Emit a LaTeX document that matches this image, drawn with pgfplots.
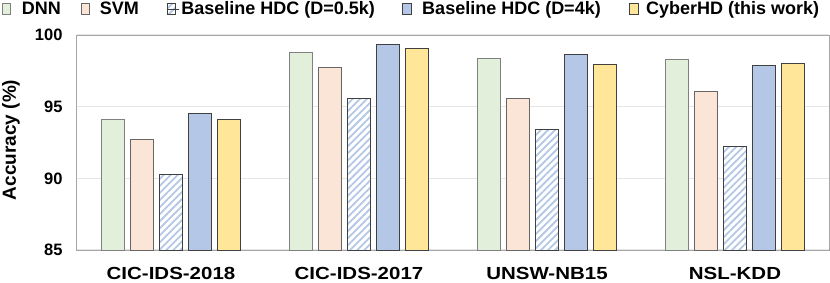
\documentclass[border=0pt]{standalone}
\usepackage{fontspec}
\setmainfont{Liberation Sans}
\newfontfamily\catfont[FakeStretch=1.17]{Liberation Sans}
\usepackage{pgfplots}
\usepackage{pgfplotstable}
\pgfplotsset{compat=1.18}
\usetikzlibrary{patterns.meta}
\definecolor{dnn}{HTML}{E2EFDA}
\definecolor{svm}{HTML}{FBE5D6}
\definecolor{hdc}{HTML}{B4C7E7}
\definecolor{cyber}{HTML}{FFE699}
\definecolor{edgeA}{HTML}{808080}
\definecolor{edgeB}{HTML}{404040}
\definecolor{gridgray}{HTML}{E6E6E6}
\definecolor{framegray}{HTML}{A6A6A6}
\pgfplotsset{
  wideimg/.style={legend image code/.code={\draw[##1] (0pt,-5.5pt) rectangle (8.5pt,5.5pt); \path[draw=none,fill=none] (0pt,0pt) -- (21pt,0pt);}},
  narrowimg/.style={legend image code/.code={\draw[##1] (0pt,-5.5pt) rectangle (8.5pt,5.5pt); \path[draw=none,fill=none] (0pt,0pt) -- (12pt,0pt);}},
}
\pgfplotstableread{
x dnn svm hdcs hdcl cyber
0 94.12 92.74 90.25 94.51 94.09
1 98.77 97.72 95.58 99.37 99.07
2 98.35 95.58 93.42 98.65 97.95
3 98.30 96.07 92.23 97.88 98.00
}\datatable
\begin{document}
\begin{tikzpicture}
\useasboundingbox (-77pt,-32pt) rectangle (753pt,250pt);
\begin{axis}[
  at={(0,0)}, anchor=south west,
  scale only axis, width=752pt, height=215pt,
  ymin=85, ymax=100, xmin=-0.5, xmax=3.5,
  ytick={85,90,95,100}, yticklabels={85,90,95,100},
  xtick={0,1,2,3}, xticklabels={CIC-IDS-2018,CIC-IDS-2017,UNSW-NB15,NSL-KDD},
  major tick length=0pt,
  ymajorgrids, grid style={draw=gridgray, line width=1.2pt},
  axis line style={draw=framegray, line width=1pt},
  ybar, bar width=0.1223,
  yticklabel style={font=\bfseries\fontsize{16.5}{19}\selectfont, xshift=-11pt},
  xticklabel style={font=\catfont\bfseries\fontsize{17.5}{20}\selectfont, yshift=-14pt},
  ylabel={\bfseries\fontsize{19}{22}\selectfont Accuracy (\%)},
  ylabel style={at={(axis description cs:-0.0878,0.512)}, anchor=center},
  legend columns=-1,
  legend style={at={(axis description cs:0,1)}, anchor=west, xshift=-75pt, yshift=26pt,
    draw=none, fill=none, inner sep=0pt, outer sep=0pt, column sep=0pt,
    font=\bfseries\fontsize{18}{21}\selectfont,
    nodes={inner sep=0pt, outer sep=0pt},
    /tikz/every even column/.style={column sep=0pt}},
]
\addplot[wideimg, bar shift=-0.3086, fill=dnn, draw=edgeA, line width=0.9pt] table[x=x,y=dnn]{\datatable};
\addlegendentry{\makebox[57.5pt][l]{\hspace*{-1.5pt}DNN}}
\addplot[wideimg, bar shift=-0.1543, fill=svm, draw=edgeB!80, line width=0.9pt] table[x=x,y=svm]{\datatable};
\addlegendentry{\makebox[64.5pt][l]{\hspace*{-2.5pt}SVM}}
\addplot[narrowimg, bar shift=0, preaction={fill=white}, pattern={Lines[angle=45,distance=5pt,line width=1.8pt]}, pattern color=hdc, draw=edgeB, line width=0.9pt] table[x=x,y=hdcs]{\datatable};
\addlegendentry{\makebox[222.5pt][l]{\hspace*{1.5pt}Baseline HDC (D=0.5k)}}
\addplot[wideimg, bar shift=0.1543, fill=hdc, draw=edgeB, line width=0.9pt] table[x=x,y=hdcl]{\datatable};
\addlegendentry{\makebox[205.5pt][l]{\hspace*{-1.5pt}Baseline HDC (D=4k)}}
\addplot[wideimg, bar shift=0.3086, fill=cyber, draw=edgeB, line width=0.9pt] table[x=x,y=cyber]{\datatable};
\addlegendentry{\makebox[174pt][l]{\hspace*{-4.5pt}CyberHD (this work)}}
\end{axis}
\end{tikzpicture}
\end{document}
